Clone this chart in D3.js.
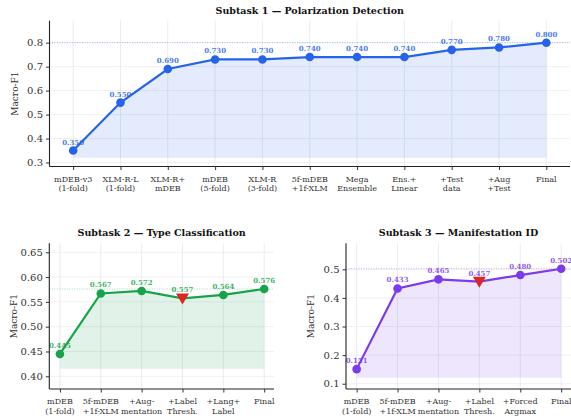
<!DOCTYPE html>
<html><head><meta charset="utf-8">
<script src="https://cdn.jsdelivr.net/npm/d3@7"></script>
<style>body{margin:0;background:#fff}svg{display:block}</style>
</head><body>
<svg id="c" width="571" height="418"></svg>
<script>
const cats1 = ["mDEB-v3\n(1-fold)","XLM-R-L\n(1-fold)","XLM-R+\nmDEB","mDEB\n(5-fold)","XLM-R\n(3-fold)","5f-mDEB\n+1f-XLM","Mega\nEnsemble","Ens.+\nLinear","+Test\ndata","+Aug\n+Test","Final"];
const vals1 = [0.350,0.550,0.690,0.730,0.730,0.740,0.740,0.740,0.770,0.780,0.800];
const ticks1 = [0.3,0.4,0.5,0.6,0.7,0.8];

const cats2 = ["mDEB\n(1-fold)","5f-mDEB\n+1f-XLM","+Aug-\nmentation","+Label\nThresh.","+Lang+\nLabel","Final"];
const vals2 = [0.445,0.567,0.572,0.557,0.564,0.576];
const ticks2 = [0.40,0.45,0.50,0.55,0.60,0.65];
const drop2 = [3];

const cats3 = ["mDEB\n(1-fold)","5f-mDEB\n+1f-XLM","+Aug-\nmentation","+Label\nThresh.","+Forced\nArgmax","Final"];
const vals3 = [0.151,0.433,0.465,0.457,0.480,0.502];
const ticks3 = [0.1,0.2,0.3,0.4,0.5];
const drop3 = [3];

const svg = d3.select("#c");
const FONT = "DejaVu Serif";

function panel(o){
  const g = svg.append("g");
  const x = d3.scaleLinear().domain(o.xdom).range([o.left,o.right]);
  const y = d3.scaleLinear().domain(o.ydom).range([o.bottom,o.top]);
  // grid
  g.selectAll(".gx").data(o.vals).join("line")
    .attr("x1",(d,i)=>x(i)).attr("x2",(d,i)=>x(i)).attr("y1",o.top).attr("y2",o.bottom)
    .attr("stroke","#e6e6ee").attr("stroke-width",0.8);
  g.selectAll(".gy").data(o.ticks).join("line")
    .attr("x1",o.left).attr("x2",o.right).attr("y1",d=>y(d)).attr("y2",d=>y(d))
    .attr("stroke","#ececec").attr("stroke-width",0.8);
  const base = d3.min(o.vals)-0.03;
  const area = d3.area().x((d,i)=>x(i)).y0(y(base)).y1(d=>y(d));
  g.append("path").datum(o.vals).attr("d",area).attr("fill",o.color).attr("fill-opacity",0.13);
  // reference dotted line
  const mx = d3.max(o.vals);
  g.append("line").attr("x1",o.left).attr("x2",o.right).attr("y1",y(mx)).attr("y2",y(mx))
    .attr("stroke",o.color).attr("stroke-opacity",0.5).attr("stroke-width",0.8).attr("stroke-dasharray","1,1.5");
  const line = d3.line().x((d,i)=>x(i)).y(d=>y(d));
  g.append("path").datum(o.vals).attr("d",line).attr("fill","none").attr("stroke",o.color).attr("stroke-width",2.2);
  o.vals.forEach((v,i)=>{
    if(o.drops.includes(i)){
      const cx=x(i), cy=y(v), s=6.5;
      g.append("path").attr("d",`M${cx-s},${cy-s*0.75}L${cx+s},${cy-s*0.75}L${cx},${cy+s*0.95}Z`).attr("fill","#dc2626");
    } else {
      g.append("circle").attr("cx",x(i)).attr("cy",y(v)).attr("r",4.3).attr("fill",o.color);
    }
    g.append("text").attr("x",x(i)).attr("y",y(v)-6).attr("text-anchor","middle")
      .attr("font-family",FONT).attr("font-weight","bold").attr("font-size",7).attr("fill",o.color)
      .attr("fill-opacity",0.85).text(d3.format(".3f")(v));
  });
  // axes
  const ya = d3.axisLeft(y).tickValues(o.ticks).tickFormat(d3.format(o.fmt)).tickSize(3.5).tickPadding(3);
  const yg = g.append("g").attr("transform",`translate(${o.left},0)`).call(ya);
  yg.select(".domain").attr("d",`M0,${o.top}V${o.bottom}`).attr("stroke","#222").attr("stroke-width",1.1);
  yg.selectAll("text").attr("font-family",FONT).attr("font-size",10).attr("fill","#333");
  yg.selectAll(".tick line").attr("stroke","#333");
  const xa = d3.axisBottom(x).tickValues(d3.range(o.vals.length)).tickFormat(()=>"").tickSize(3.5);
  const xg = g.append("g").attr("transform",`translate(0,${o.bottom})`).call(xa);
  xg.select(".domain").attr("d",`M${o.left},0H${o.right}`).attr("stroke","#222").attr("stroke-width",1.1);
  xg.selectAll(".tick line").attr("stroke","#333");
  o.cats.forEach((c,i)=>{
    const t = g.append("text").attr("x",x(i)).attr("y",o.bottom+15).attr("text-anchor","middle")
      .attr("font-family",FONT).attr("font-size",8).attr("fill","#333");
    c.split("\n").forEach((s,k)=>t.append("tspan").attr("x",x(i)).attr("dy",k?9.5:0).text(s));
  });
  g.append("text").attr("transform",`translate(${o.left-32},${(o.top+o.bottom)/2}) rotate(-90)`)
    .attr("text-anchor","middle").attr("font-family",FONT).attr("font-size",9).attr("fill","#333").text("Macro-F1");
  g.append("text").attr("x",(o.left+o.right)/2).attr("y",o.top-7).attr("text-anchor","middle")
    .attr("font-family",FONT).attr("font-weight","bold").attr("font-size",9.5).attr("fill","#111").text(o.title);
}

panel({cats:cats1,vals:vals1,ticks:ticks1,drops:[],fmt:".1f",color:"#2563eb",
  title:"Subtask 1 — Polarization Detection",
  left:49.5,right:570,top:20.7,bottom:166.5,xdom:[-0.5,10.5],ydom:[0.2833,0.8917]});
panel({cats:cats2,vals:vals2,ticks:ticks2,drops:drop2,fmt:".2f",color:"#16a34a",
  title:"Subtask 2 — Type Classification",
  left:49.3,right:274,top:243.3,bottom:389,xdom:[-0.26,5.24],ydom:[0.3744,0.6681]});
panel({cats:cats3,vals:vals3,ticks:ticks3,drops:drop3,fmt:".1f",color:"#7c3aed",
  title:"Subtask 3 — Manifestation ID",
  left:346,right:571,top:243.3,bottom:389,xdom:[-0.26,5.24],ydom:[0.0815,0.591]});
</script>
</body></html>
